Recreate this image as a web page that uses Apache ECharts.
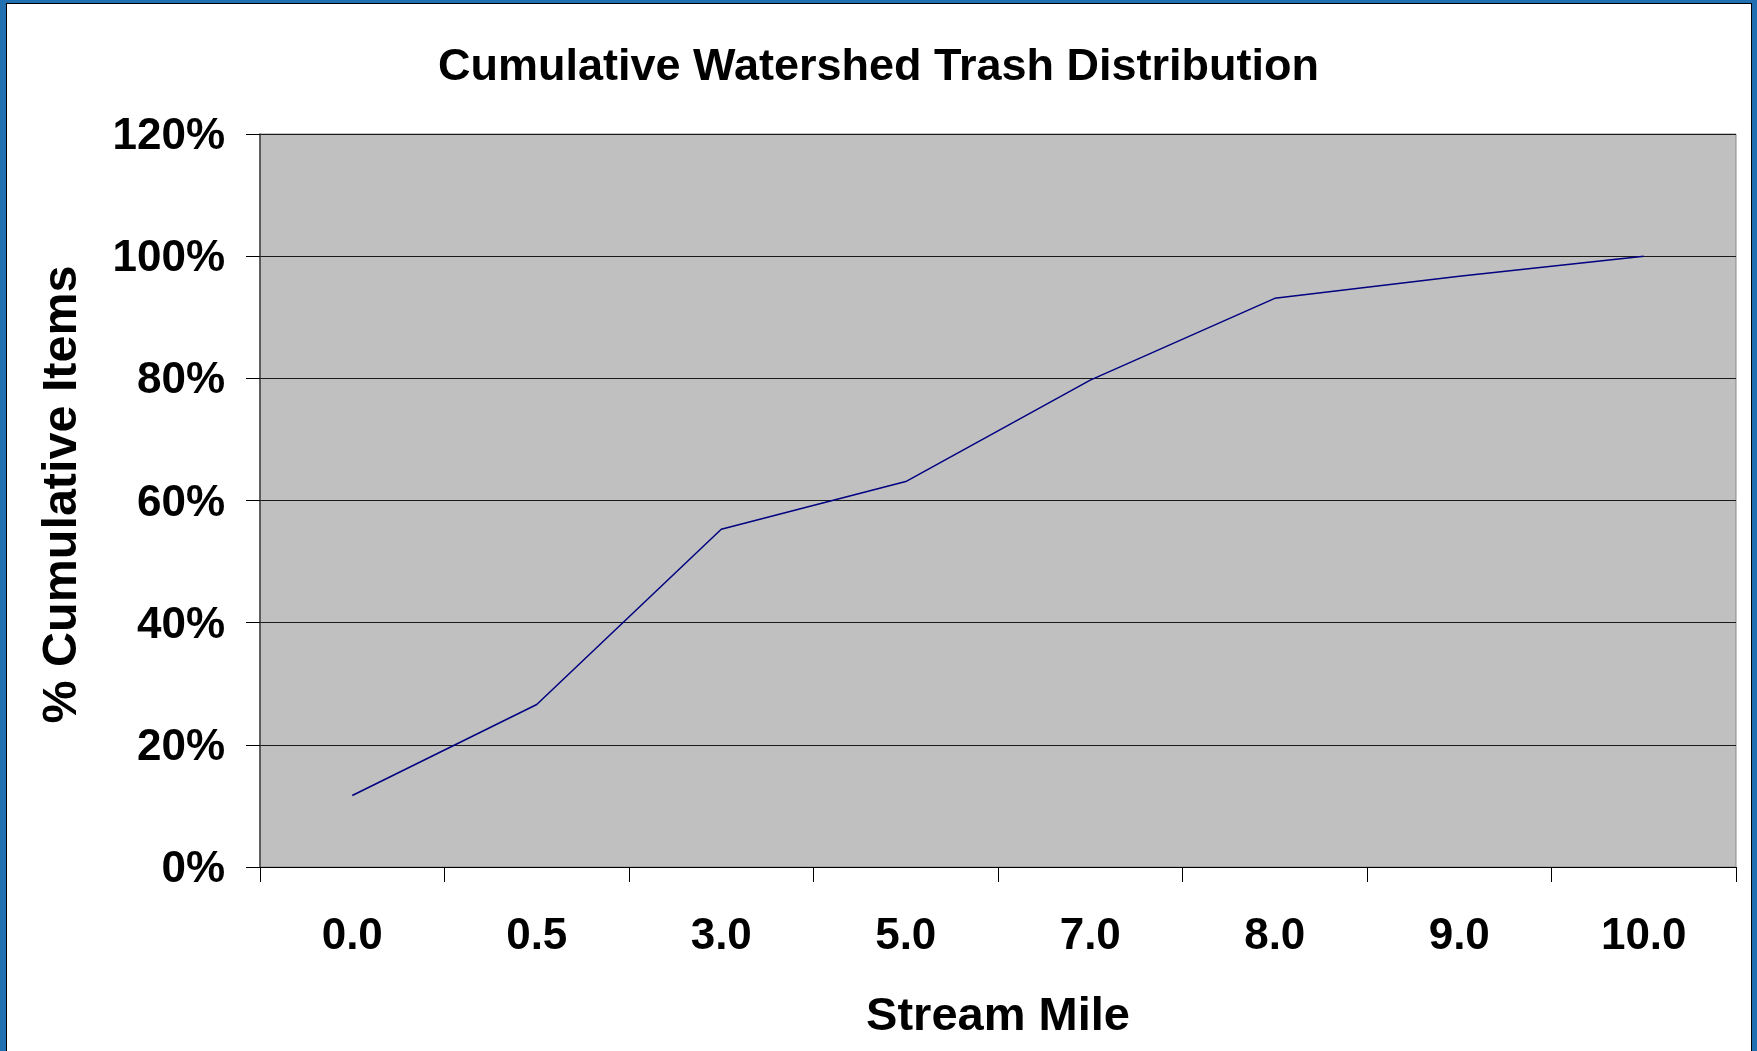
<!DOCTYPE html>
<html>
<head>
<meta charset="utf-8">
<script src="https://cdn.jsdelivr.net/npm/echarts@6/dist/echarts.min.js"></script>
<style>
  html, body { margin: 0; padding: 0; width: 1757px; height: 1051px; overflow: hidden; background: #1f6fb1; }
  #frame { position: absolute; left: 6px; top: 3px; width: 1744px; height: 1070px; border: 1px solid #000; background: #fff; }
  #chart { position: absolute; left: 0; top: 0; width: 1757px; height: 1051px; }
</style>
</head>
<body>
<div id="frame"></div>
<div id="chart"></div>
<script>
const titleText = 'Cumulative Watershed Trash Distribution';
const xAxisName = 'Stream Mile';
const yAxisName = '% Cumulative Items';
const categories = ['0.0', '0.5', '3.0', '5.0', '7.0', '8.0', '9.0', '10.0'];
const cumulativePct = [11.7, 26.6, 55.3, 63.1, 79.7, 93.1, 96.7, 100];
const yTicks = { min: 0, max: 120, interval: 20 };

const FONT = "'Liberation Sans', Arial, sans-serif";
const chart = echarts.init(document.getElementById('chart'), null, { renderer: 'canvas' });
chart.setOption({
  backgroundColor: 'transparent',
  animation: false,
  title: {
    text: titleText,
    left: 'center',
    top: 40,
    textStyle: { fontFamily: FONT, fontWeight: 'bold', fontSize: 45, color: '#000' }
  },
  grid: {
    left: 260, top: 134, right: 21, bottom: 184,
    show: true, backgroundColor: '#C0C0C0', borderColor: '#8a8a8a', borderWidth: 1,
    containLabel: false
  },
  xAxis: {
    type: 'category',
    data: categories,
    name: xAxisName,
    nameLocation: 'middle',
    nameGap: 127,
    nameTextStyle: { fontFamily: FONT, fontWeight: 'bold', fontSize: 47, color: '#000' },
    axisLine: { lineStyle: { color: '#000', width: 1 } },
    axisTick: { show: true, length: 15, lineStyle: { color: '#000', width: 1 } },
    axisLabel: { margin: 48, fontFamily: FONT, fontWeight: 'bold', fontSize: 44, color: '#000' },
    splitLine: { show: false }
  },
  yAxis: {
    type: 'value',
    min: yTicks.min, max: yTicks.max, interval: yTicks.interval,
    name: yAxisName,
    nameLocation: 'middle',
    nameGap: 173,
    nameRotate: 90,
    nameTextStyle: { fontFamily: FONT, fontWeight: 'bold', fontSize: 48.5, color: '#000', padding: [0, 0, 0, 12] },
    axisLine: { show: true, lineStyle: { color: '#404040', width: 1.5 } },
    axisTick: { show: true, length: 14, lineStyle: { color: '#000', width: 1 } },
    axisLabel: { margin: 35, fontFamily: FONT, fontWeight: 'bold', fontSize: 44, color: '#000', formatter: '{value}%', verticalAlign: 'top', lineHeight: 6 },
    splitLine: { show: true, lineStyle: { color: '#1a1a1a', width: 1 } }
  },
  series: [{
    type: 'line',
    data: cumulativePct,
    symbol: 'none',
    lineStyle: { color: '#000080', width: 1.5 },
    itemStyle: { color: '#000080' }
  }]
});
</script>
</body>
</html>
